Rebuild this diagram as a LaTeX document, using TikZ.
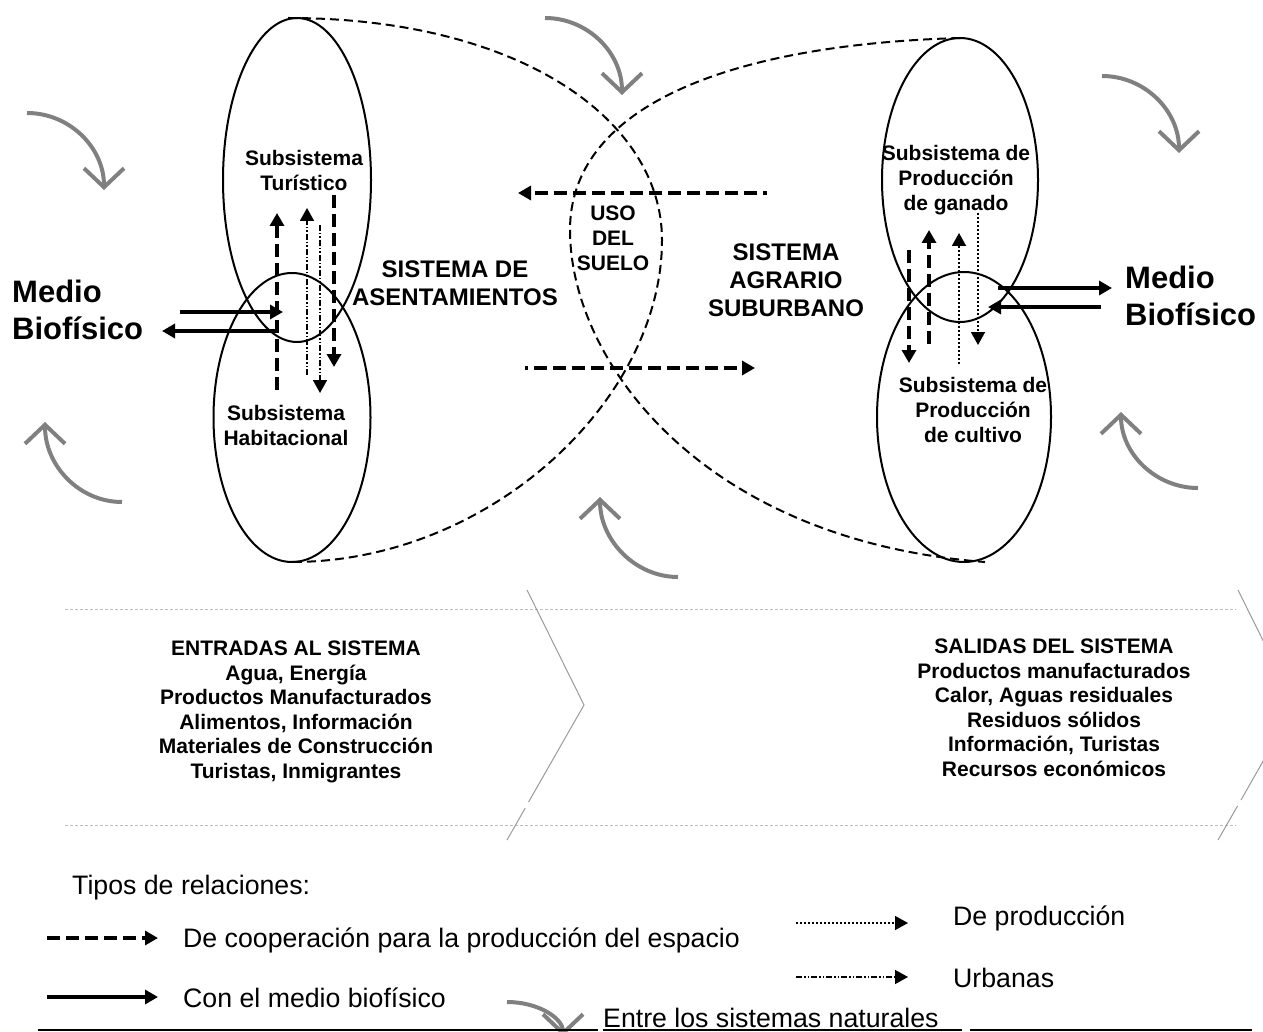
\documentclass[tikz,border=0pt]{standalone}
\usepackage{fontspec}
\setmainfont{Liberation Sans}
\usetikzlibrary{arrows.meta}
\definecolor{natgray}{HTML}{808080}
\definecolor{bandgray}{HTML}{9A9A9A}
\definecolor{dotgray}{HTML}{BDBDBD}
\tikzset{
  ell/.style={line width=2pt},
  sysline/.style={line width=2pt, dash pattern=on 9pt off 5pt},
  tri/.style={-{Triangle[length=13pt,width=14pt]}},
  coop/.style={tri, line width=4pt, dash pattern=on 13pt off 6pt},
  medio/.style={tri, line width=4pt},
  urb/.style={tri, line width=1.8pt, dash pattern=on 6pt off 2pt on 1.5pt off 2pt on 1.5pt off 2pt},
  prod/.style={tri, line width=1.8pt, dash pattern=on 1.8pt off 2.2pt},
  nat/.style={draw=natgray, line width=4pt, -{Straight Barb[length=19pt,width=40pt]}},
  lbl/.style={font=\fontsize{21}{25}\selectfont\bfseries, align=center, inner sep=0pt},
  big/.style={font=\fontsize{24}{28}\selectfont\bfseries, align=center, inner sep=0pt},
  medtxt/.style={font=\fontsize{31}{37}\selectfont\bfseries, align=left, inner sep=0pt, anchor=west},
  list/.style={font=\fontsize{21}{24.5}\selectfont\bfseries, align=center, inner sep=0pt},
  legtxt/.style={font=\fontsize{26.7}{30}\selectfont, inner sep=0pt, anchor=west},
  band/.style={draw=bandgray, line width=1pt},
  bandline/.style={draw=dotgray, line width=1pt, dash pattern=on 3pt off 2pt},
  rule/.style={line width=1.5pt}
}
\begin{document}
\begin{tikzpicture}[x=1pt,y=-1pt]
\useasboundingbox (0,0) rectangle (1263,1032);
\begin{scope}
\clip (0,0) rectangle (1263,1032);

% ---- system outlines (dashed) ----
\draw[sysline] (288,18) .. controls (520,18) and (662,120) .. (662,240)
                 .. controls (662,400) and (490,562) .. (292,562);
\draw[sysline] (960,38) .. controls (720,45) and (570,110) .. (570,230)
                 .. controls (570,360) and (700,540) .. (985,562);

% ---- left ellipses (their overlap forms the small lens) ----
\draw[ell] (297,180) ellipse [x radius=74pt, y radius=162pt];
\draw[ell] (292,417.5) ellipse [x radius=78.5pt, y radius=144.5pt];

% ---- right ellipses ----
\draw[ell] (960,180) ellipse [x radius=78pt, y radius=142pt];
\draw[ell] (964,417) ellipse [x radius=87pt, y radius=145pt];

% ---- band with chevrons ----
\draw[bandline] (65,609) -- (1236,609);
\draw[bandline] (65,825) -- (1236,825);
\draw[band] (527,590) -- (584,705) -- (528.6,802);
\draw[band] (525.3,808) -- (507,840);
\draw[band] (1238,590) -- (1295,705) -- (1241,800);
\draw[band] (1237.5,806) -- (1218,840);

% ---- named coordinates for arrows ----
\coordinate (lm1a) at (180,312);  \coordinate (lm1b) at (283,312);
\coordinate (lm2a) at (276,331);  \coordinate (lm2b) at (162,331);
\coordinate (lc1a) at (277,390);  \coordinate (lc1b) at (277,213);
\coordinate (lu1a) at (307,375);  \coordinate (lu1b) at (307,208);
\coordinate (lu2a) at (320,225);  \coordinate (lu2b) at (320,393);
\coordinate (lc2a) at (334,195);  \coordinate (lc2b) at (334,367);
\coordinate (cc1a) at (767,193);  \coordinate (cc1b) at (518,193);
\coordinate (cc2a) at (525,368);  \coordinate (cc2b) at (755,368);
\coordinate (rc1a) at (909,250);  \coordinate (rc1b) at (909,363);
\coordinate (rc2a) at (929,344);  \coordinate (rc2b) at (929,230);
\coordinate (rp1a) at (959,364);  \coordinate (rp1b) at (959,233);
\coordinate (rp2a) at (978,213);  \coordinate (rp2b) at (978,345);
\coordinate (rm1a) at (998,288);  \coordinate (rm1b) at (1112,288);
\coordinate (rm2a) at (1101,307); \coordinate (rm2b) at (988,307);

% ---- arrows left ----
\draw[medio] (lm1a) -- (lm1b);
\draw[medio] (lm2a) -- (lm2b);
\draw[coop] (lc1a) -- (lc1b);
\draw[urb] (lu1a) -- (lu1b);
\draw[urb] (lu2a) -- (lu2b);
\draw[coop] (lc2a) -- (lc2b);
% ---- arrows centre ----
\draw[coop, dash phase=9pt] (cc1a) -- (cc1b);
\draw[coop, dash phase=10pt] (cc2a) -- (cc2b);
% ---- arrows right ----
\draw[coop] (rc1a) -- (rc1b);
\draw[coop] (rc2a) -- (rc2b);
\draw[prod] (rp1a) -- (rp1b);
\draw[prod] (rp2a) -- (rp2b);
\draw[medio] (rm1a) -- (rm1b);
\draw[medio] (rm2a) -- (rm2b);

% ---- natural-system gray arrows ----
\coordinate (n1a) at (27,113);   \coordinate (n1b) at (104,190);
\coordinate (n2a) at (545,18);   \coordinate (n2b) at (622,95);
\coordinate (n3a) at (1102,76);  \coordinate (n3b) at (1179,153);
\coordinate (n4a) at (122,502);  \coordinate (n4b) at (45,422);
\coordinate (n5a) at (678,577);  \coordinate (n5b) at (600,497);
\coordinate (n6a) at (1198,488); \coordinate (n6b) at (1121,412);
\draw[nat] (n1a) .. controls +(42.5,0) and +(0,-42.5) .. (n1b);
\draw[nat] (n2a) .. controls +(42.5,0) and +(0,-42.5) .. (n2b);
\draw[nat] (n3a) .. controls +(42.5,0) and +(0,-42.5) .. (n3b);
\draw[nat] (n4a) .. controls +(-42.5,0) and +(0,44) .. (n4b);
\draw[nat] (n5a) .. controls +(-43,0) and +(0,43) .. (n5b);
\draw[nat] (n6a) .. controls +(-42,0) and +(0,42) .. (n6b);

% ---- labels ----
\node[lbl] (tur) at (304,170) {Subsistema\\Turístico};
\node[lbl] (hab) at (286,425) {Subsistema\\Habitacional};
\node[big] (asent) at (455,283) {SISTEMA DE\\ASENTAMIENTOS};
\node[lbl] (uso) at (613,238) {USO\\DEL\\SUELO};
\node[big] (agr) at (786,280) {SISTEMA\\AGRARIO\\SUBURBANO};
\node[lbl] (gan) at (956,180) {Subsistema de\\Producción\\de ganado};
\node[lbl] (cul) at (973,410) {Subsistema de\\Producción\\de cultivo};
\node[medtxt] (medL) at (12,310) {Medio\\Biofísico};
\node[medtxt] (medR) at (1125,296) {Medio\\Biofísico};

\node[list] (ent) at (296,712) {ENTRADAS AL SISTEMA\\Agua, Energía\\Productos Manufacturados\\Alimentos, Información\\Materiales de Construcción\\Turistas, Inmigrantes};
\node[list] (sal) at (1054,708) {SALIDAS DEL SISTEMA\\Productos manufacturados\\Calor, Aguas residuales\\Residuos sólidos\\Información, Turistas\\Recursos económicos};

% ---- legend ----
\node[legtxt] (tipos) at (72,888) {Tipos de relaciones:};
\coordinate (g1a) at (47,938);  \coordinate (g1b) at (158,938);
\coordinate (g2a) at (47,997);  \coordinate (g2b) at (158,997);
\coordinate (g3a) at (796,923); \coordinate (g3b) at (908,923);
\coordinate (g4a) at (796,977); \coordinate (g4b) at (908,977);
\draw[coop] (g1a) -- (g1b);
\draw[medio] (g2a) -- (g2b);
\draw[prod, line width=1.5pt] (g3a) -- (g3b);
\draw[urb, line width=1.5pt] (g4a) -- (g4b);
\node[legtxt] (lcoop) at (183,940) {De cooperación para la producción del espacio};
\node[legtxt] (lmed) at (183,998) {Con el medio biofísico};
\node[legtxt] (lprod) at (953,918) {De producción};
\node[legtxt] (lurb) at (953,978) {Urbanas};
\coordinate (g5a) at (507,1002); \coordinate (g5b) at (563,1036);
\draw[nat] (g5a) .. controls +(31,0) and +(0,-18) .. (g5b);
\node[legtxt, anchor=base west] (lnat) at (603,1027) {Entre los sistemas naturales};
\coordinate (r1a) at (38,1030);  \coordinate (r1b) at (598,1030);
\coordinate (r2a) at (603,1030); \coordinate (r2b) at (962,1030);
\coordinate (r3a) at (970,1030); \coordinate (r3b) at (1252,1030);
\draw[rule] (r1a) -- (r1b);
\draw[rule] (r2a) -- (r2b);
\draw[rule] (r3a) -- (r3b);
\end{scope}
\end{tikzpicture}
\end{document}
